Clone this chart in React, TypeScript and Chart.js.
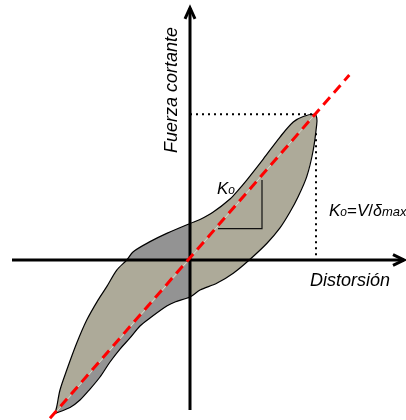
import React, { useEffect, useRef } from "react";
import { Chart, registerables } from "chart.js";

Chart.register(...registerables);

// Hysteresis loop (units: distortion / δmax, shear / Vmax)
// loading branch: from negative peak up to positive peak
const loadX = [-1.08, -1.066, -1.04, -0.986, -0.906, -0.826, -0.736, -0.666, -0.586, -0.506, -0.454, -0.32, -0.186, 0, 0.08, 0.186, 0.32, 0.386, 0.454, 0.586, 0.72, 0.826, 0.906, 1.0];
const loadY = [-1.054, -1.007, -0.892, -0.755, -0.57, -0.412, -0.275, -0.183, -0.069, 0, 0.057, 0.126, 0.183, 0.251, 0.278, 0.329, 0.419, 0.48, 0.549, 0.693, 0.844, 0.947, 0.985, 1.0];
// unloading branch: from positive peak back to negative peak
const unloadX = [1.014, 1.014, 0.986, 0.934, 0.864, 0.8, 0.72, 0.616, 0.474, 0.346, 0.214, 0.08, 0, -0.12, -0.186, -0.32, -0.4, -0.48, -0.56, -0.64, -0.72, -0.8, -0.88, -0.96, -1.08];
const unloadY = [0.975, 0.933, 0.755, 0.572, 0.432, 0.329, 0.22, 0.115, 0, -0.091, -0.16, -0.206, -0.254, -0.288, -0.316, -0.398, -0.453, -0.535, -0.611, -0.700, -0.803, -0.886, -0.961, -1.012, -1.054];

// secant stiffness line Ko = V/δmax
const secantX = [-1.12, 1.2744];
const secantY = [-1.0865, 1.2697];

// slope triangle
const triangleX = [0.224, 0.576, 0.576];
const triangleY = [0.216, 0.216, 0.549];

// peak reference (δmax, Vmax)
const peakX = 1.0;
const peakY = 1.0;
const peakGuideX = 1.008;

// axes extent
const axisXMin = -1.424;
const axisXMax = 1.712;
const axisYMin = -1.03;
const axisYMax = 1.73;

const yAxisTitle = "Fuerza cortante";
const xAxisTitle = "Distorsión";

const FONT = "'Liberation Sans', Arial, sans-serif";

type P = { x: number; y: number };
const pts = (xs: number[], ys: number[]): P[] => xs.map((x, i) => ({ x, y: ys[i] }));

export default function App() {
  const ref = useRef<HTMLCanvasElement | null>(null);

  useEffect(() => {
    if (!ref.current) return;
    const load = pts(loadX, loadY);
    const unload = pts(unloadX, unloadY);
    const loop = [...load, ...unload];

    const darkUpper: P[] = [...load.filter((p) => p.x <= 0 && p.y >= 0), { x: 0, y: 0 }];
    darkUpper.push(darkUpper[0]);
    const unloadNeg = unload.filter((p) => p.x <= 0 && p.y <= 0).reverse();
    const darkLower: P[] = [{ x: 0, y: 0 }, load[0], ...unloadNeg, { x: 0, y: 0 }];

    const axW = 3;
    const hArrow = 0.088;
    const hWing = 0.037;
    const vArrow = 0.075;
    const vWing = 0.04;

    const line = (data: P[], color: string, width: number, order: number, extra: any = {}) => ({
      data,
      borderColor: color,
      borderWidth: width,
      pointRadius: 0,
      pointHoverRadius: 0,
      fill: false,
      tension: 0,
      order,
      ...extra,
    });

    const labelPlugin = {
      id: "diagramLabels",
      afterDatasetsDraw(chart: any) {
        const { ctx } = chart;
        const sx = chart.scales.x;
        const sy = chart.scales.y;
        const px = (v: number) => sx.getPixelForValue(v);
        const py = (v: number) => sy.getPixelForValue(v);
        ctx.save();
        ctx.fillStyle = "#000";
        ctx.textBaseline = "alphabetic";

        // y axis title (rotated)
        ctx.save();
        ctx.translate(px(-0.106), py(1.167));
        ctx.rotate(-Math.PI / 2);
        ctx.textAlign = "center";
        ctx.font = `italic 18px ${FONT}`;
        ctx.fillText(yAxisTitle, 0, 0);
        ctx.restore();

        // x axis title
        ctx.textAlign = "left";
        ctx.font = `italic 18px ${FONT}`;
        ctx.fillText(xAxisTitle, px(0.96), py(-0.178));

        const runs = (x0: number, y0: number, parts: [string, string][]) => {
          let cx = x0;
          for (const [t, f] of parts) {
            ctx.font = f;
            ctx.fillText(t, cx, y0);
            cx += ctx.measureText(t).width;
          }
        };
        runs(px(0.216), py(0.456), [
          ["K", `italic 17px ${FONT}`],
          ["o", `italic 12px ${FONT}`],
        ]);
        runs(px(1.112), py(0.302), [
          ["K", `italic 17px ${FONT}`],
          ["o", `italic 12px ${FONT}`],
          ["=", `17px ${FONT}`],
          ["V", `italic 17px ${FONT}`],
          ["/", `17px ${FONT}`],
          ["δ", `italic 16px ${FONT}`],
          ["max", `italic 13px ${FONT}`],
        ]);
        ctx.restore();
      },
    };

    const chart = new Chart(ref.current, {
      type: "line",
      data: {
        datasets: [
          // loop fill
          line(loop, "rgba(0,0,0,0)", 0, 30, { fill: "shape", backgroundColor: "#adaa99" }),
          line(darkUpper, "rgba(0,0,0,0)", 0, 29, { fill: "shape", backgroundColor: "#939393" }),
          line(darkLower, "rgba(0,0,0,0)", 0, 29, { fill: "shape", backgroundColor: "#939393" }),
          // light trace along the diagonal
          line([load[0], { x: peakX, y: peakY }], "#d8d5c9", 1, 28),
          // loop outline
          line(loop, "#000", 1.2, 27, { tension: 0.3 }),
          // dotted guides to the peak
          line([{ x: 0, y: peakY }, { x: peakX * 0.99, y: peakY }], "#000", 2, 20, { borderDash: [2, 4] }),
          line([{ x: peakGuideX, y: 0.87 }, { x: peakGuideX, y: 0 }], "#000", 2, 20, { borderDash: [2, 4] }),
          // slope triangle
          line(pts(triangleX, triangleY), "#111", 1.2, 15),
          // axes
          line([{ x: axisXMin, y: 0 }, { x: axisXMax, y: 0 }], "#000", axW, 10),
          line([{ x: axisXMax - hArrow, y: hWing }, { x: axisXMax, y: 0 }, { x: axisXMax - hArrow, y: -hWing }], "#000", axW, 10, { borderJoinStyle: "miter" }),
          line([{ x: 0, y: axisYMin }, { x: 0, y: axisYMax }], "#000", axW, 10),
          line([{ x: -vWing, y: axisYMax - vArrow }, { x: 0, y: axisYMax }, { x: vWing, y: axisYMax - vArrow }], "#000", axW, 10, { borderJoinStyle: "miter" }),
          // secant stiffness line
          line(pts(secantX, secantY), "#ff0000", 3, 1, { borderDash: [10, 6] }),
        ] as any,
      },
      options: {
        animation: false,
        responsive: true,
        maintainAspectRatio: false,
        layout: { padding: 0 },
        events: [],
        scales: {
          x: { type: "linear", min: -1.52, max: 1.728, display: false },
          y: { type: "linear", min: -1.0981, max: 1.7845, display: false },
        },
        plugins: {
          legend: { display: false },
          tooltip: { enabled: false },
          title: { display: false },
        },
      },
      plugins: [labelPlugin],
    });
    return () => chart.destroy();
  }, []);

  return (
    <div style={{ position: "fixed", left: 0, top: 0, width: 406, height: 420, background: "#fff" }}>
      <canvas ref={ref} />
    </div>
  );
}
